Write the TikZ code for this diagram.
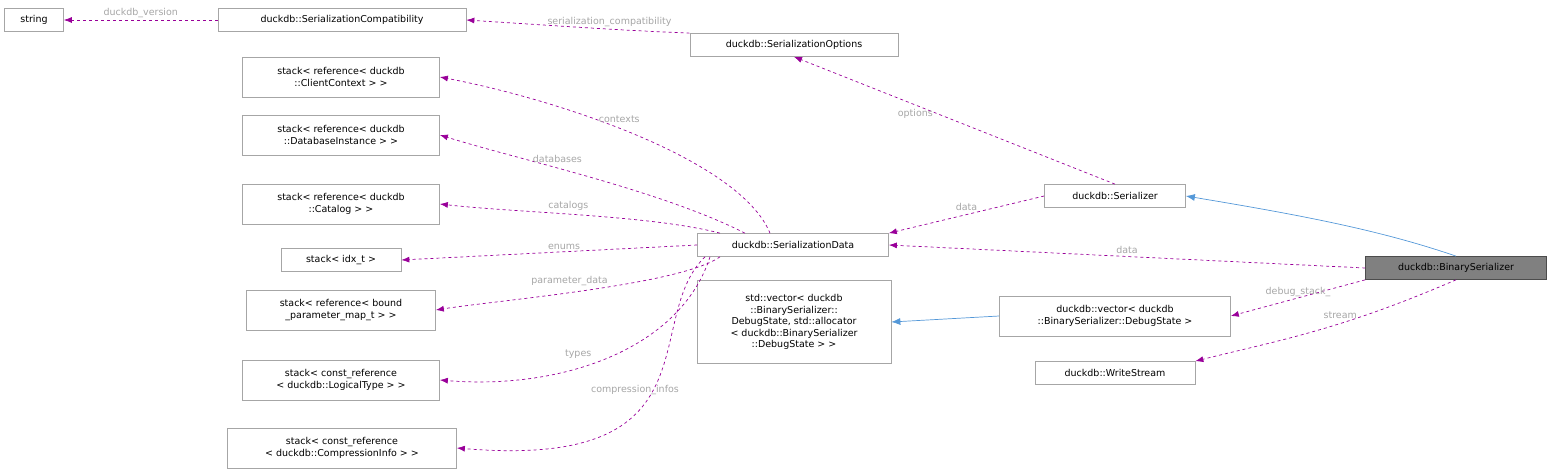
\documentclass[tikz,border=0pt]{standalone}
\usepackage{fontspec}
\setmainfont{DejaVu Sans}
\usetikzlibrary{arrows.meta}
\begin{document}
\begin{tikzpicture}[x=1pt,y=-1pt,
 box/.style={draw=black!35,fill=white,inner sep=2pt,font=\fontsize{9.5}{11.5}\selectfont,align=center,line width=0.7pt},
 dep/.style={draw=violet!80!magenta,dashed,line width=0.7pt,-{Latex[length=8pt,width=6pt]}},
 inh/.style={draw=cyan!60!blue!70,line width=0.7pt,-{Latex[open,fill=cyan!60!blue!70,length=9pt,width=7pt]}},
 lab/.style={text=black!35,font=\fontsize{9.5}{11}\selectfont}]
\useasboundingbox (0,0) rectangle (1552,473);
\node[box,minimum width=59pt,minimum height=23pt] (str) at (34,20) {string};
\node[box,minimum width=248pt,minimum height=23pt] (sc) at (342,20) {duckdb::SerializationCompatibility};
\node[box,minimum width=208pt,minimum height=23pt] (so) at (794,45) {duckdb::SerializationOptions};
\node[box,minimum width=197pt,minimum height=40pt] (cc) at (341,77) {stack< reference< duckdb\\::ClientContext > >};
\node[box,minimum width=197pt,minimum height=40pt] (di) at (341,135) {stack< reference< duckdb\\::DatabaseInstance > >};
\node[box,minimum width=197pt,minimum height=40pt] (ca) at (341,204) {stack< reference< duckdb\\::Catalog > >};
\node[box,minimum width=120pt,minimum height=23pt] (ix) at (341,260) {stack< idx\_t >};
\node[box,minimum width=189pt,minimum height=40pt] (bp) at (341,310) {stack< reference< bound\\\_parameter\_map\_t > >};
\node[box,minimum width=197pt,minimum height=40pt] (lt) at (341,380) {stack< const\_reference\\< duckdb::LogicalType > >};
\node[box,minimum width=229pt,minimum height=40pt] (ci) at (342,448) {stack< const\_reference\\< duckdb::CompressionInfo > >};
\node[box,minimum width=191pt,minimum height=23pt] (sd) at (793,245) {duckdb::SerializationData};
\node[box,minimum width=194pt,minimum height=83pt] (sv) at (794,322) {std::vector< duckdb\\::BinarySerializer::\\DebugState, std::allocator\\< duckdb::BinarySerializer\\::DebugState > >};
\node[box,minimum width=141pt,minimum height=23pt] (se) at (1115,196) {duckdb::Serializer};
\node[box,minimum width=231pt,minimum height=40pt] (dv) at (1115,316) {duckdb::vector< duckdb\\::BinarySerializer::DebugState >};
\node[box,minimum width=160pt,minimum height=23pt] (ws) at (1115,373) {duckdb::WriteStream};
\node[box,fill=black!50,draw=black!70,minimum width=181pt,minimum height=23pt] (bs) at (1456,268) {duckdb::BinarySerializer};

\draw[dep] (sc.west) -- (str.east) node[lab,midway,above=-1pt] {duckdb\_version};
\draw[dep] (so.north west) .. controls (620,30) .. (sc.east) node[lab,pos=0.5,above=-1pt] {serialization\_compatibility};
\draw[dep] (se.north) -- (so.south) node[lab,pos=0.55,left=2pt] {options};
\draw[dep] (sd.north -| 770,0) .. controls (740,160) and (560,100) .. (cc.east) node[lab,pos=0.55,above=2pt] {contexts};
\draw[dep] (sd.north -| 745,0) .. controls (660,190) and (520,160) .. (di.east) node[lab,pos=0.6,above=2pt] {databases};
\draw[dep] (sd.north -| 720,0) .. controls (650,215) and (520,213) .. (ca.east) node[lab,pos=0.55,above] {catalogs};
\draw[dep] (sd.west) -- (ix.east) node[lab,pos=0.45,above=-2pt] {enums};
\draw[dep] (sd.south -| 720,0) .. controls (680,285) and (500,300) .. (bp.east) node[lab,pos=0.55,above=3pt] {parameter\_data};
\draw[dep] (sd.south -| 710,0) .. controls (680,350) and (560,390) .. (lt.east) node[lab,pos=0.6,above=6pt] {types};
\draw[dep] (sd.south -| 705,0) .. controls (640,320) and (720,470) .. (ci.east) node[lab,pos=0.62,above=14pt] {compression\_infos};
\draw[dep] (se.west) -- (sd.north east) node[lab,midway,above] {data};
\draw[dep] (bs.west) -- (sd.east) node[lab,midway,above=-1pt] {data};
\draw[dep] (bs.south west) -- (dv.east) node[lab,pos=0.5,above=-2pt] {debug\_stack\_};
\draw[dep] (bs.south) .. controls (1340,330) and (1280,340) .. (ws.north east) node[lab,pos=0.3,left=4pt] {stream};
\draw[inh] (bs.north) .. controls (1380,230) and (1300,215) .. (se.east);
\draw[inh] (dv.west) -- (sv.east);
\end{tikzpicture}
\end{document}
